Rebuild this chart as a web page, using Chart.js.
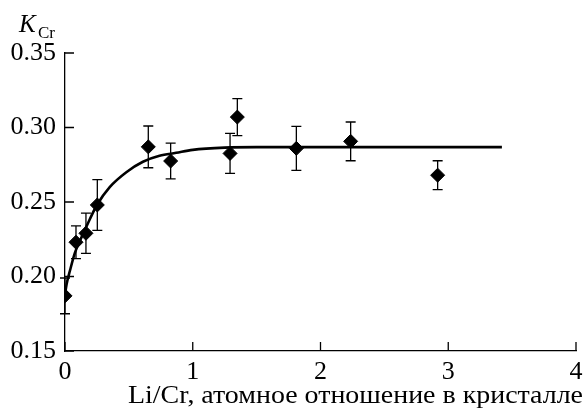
<!DOCTYPE html>
<html>
<head>
<meta charset="utf-8">
<script src="https://cdn.jsdelivr.net/npm/chart.js@4.4.1/dist/chart.umd.min.js"></script>
<style>
  html, body { margin: 0; padding: 0; background: #fff; }
  canvas { display: block; }
</style>
</head>
<body>
<canvas id="grafico" width="584" height="409"></canvas>
<script>
// Datos
var liCr = [0, 0.086, 0.164, 0.253, 0.652, 0.827, 1.292, 1.349, 1.811, 2.236, 2.917];
var kCr = [0.187, 0.223, 0.229, 0.248, 0.287, 0.2775, 0.2826, 0.307, 0.286, 0.2907, 0.268];
var errores = [0.012, 0.011, 0.0135, 0.017, 0.014, 0.012, 0.0134, 0.0124, 0.0148, 0.013, 0.0097];

// Curva ajustada (puntos leidos)
var curvaX = [0, 0.013, 0.039, 0.078, 0.117, 0.17, 0.25, 0.35, 0.48, 0.61, 0.74, 0.87, 1.0, 1.25, 1.5, 2.0, 2.5, 3.0, 3.42];
var curvaY = [0.188, 0.195, 0.204, 0.216, 0.224, 0.234, 0.248, 0.260, 0.270, 0.277, 0.281, 0.283, 0.285, 0.2865, 0.2868, 0.2868, 0.2868, 0.2868, 0.2868];

var ticksX = [0, 1, 2, 3, 4];
var ticksY = [0.15, 0.20, 0.25, 0.30, 0.35];

var fuente = '"Liberation Serif", "Times New Roman", serif';

// Barras de error
var barrasError = {
    id: 'barrasError',
    beforeDatasetsDraw: function(chart) {
        var ctx = chart.ctx;
        var sx = chart.scales.x, sy = chart.scales.y;
        ctx.save();
        ctx.strokeStyle = '#000';
        ctx.lineWidth = 1.3;
        for (var i = 0; i < liCr.length; i++) {
            var px = sx.getPixelForValue(liCr[i]);
            var top = sy.getPixelForValue(kCr[i] + errores[i]);
            var bot = sy.getPixelForValue(kCr[i] - errores[i]);
            ctx.beginPath();
            ctx.moveTo(px, top); ctx.lineTo(px, bot);
            ctx.moveTo(px - 5, top); ctx.lineTo(px + 5, top);
            ctx.moveTo(px - 5, bot); ctx.lineTo(px + 5, bot);
            ctx.stroke();
        }
        ctx.restore();
    }
};

// Marcas hacia dentro y textos de ejes
var ejes = {
    id: 'ejes',
    afterDraw: function(chart) {
        var ctx = chart.ctx;
        var sx = chart.scales.x, sy = chart.scales.y;
        var a = chart.chartArea;
        ctx.save();
        ctx.strokeStyle = '#000';
        ctx.lineWidth = 1.3;
        ctx.beginPath();
        ticksY.forEach(function(v) {
            var py = sy.getPixelForValue(v);
            ctx.moveTo(a.left, py); ctx.lineTo(a.left + 9, py);
        });
        ticksX.forEach(function(v) {
            var px = sx.getPixelForValue(v);
            ctx.moveTo(px, a.bottom); ctx.lineTo(px, a.bottom - 9);
        });
        ctx.stroke();

        ctx.fillStyle = '#000';
        ctx.textBaseline = 'alphabetic';
        ctx.textAlign = 'left';
        ctx.font = 'italic 25px ' + fuente;
        ctx.fillText('K', 19, 32);
        ctx.font = '17px ' + fuente;
        ctx.fillText('Cr', 38, 38);

        // titulo del eje x, ajustado al ancho del original
        var titulo = 'Li/Cr, атомное отношение в кристалле';
        ctx.font = '25px ' + fuente;
        var ancho = ctx.measureText(titulo).width;
        var escala = 455 / ancho;
        ctx.translate(128, 403);
        ctx.scale(escala, 1);
        ctx.fillText(titulo, 0, 0);
        ctx.restore();
    }
};

var ctx = document.getElementById('grafico').getContext('2d');
var grafico = new Chart(ctx, {
    type: 'scatter',
    data: {
        datasets: [{
            data: liCr.map(function(x, i) { return {x: x, y: kCr[i]}; }),
            pointStyle: 'rectRot',
            pointRadius: 7,
            backgroundColor: '#000',
            borderColor: '#000',
            borderWidth: 1
        }, {
            data: curvaX.map(function(x, i) { return {x: x, y: curvaY[i]}; }),
            showLine: true,
            pointRadius: 0,
            borderColor: '#000',
            borderWidth: 2.6,
            cubicInterpolationMode: 'monotone',
            fill: false
        }]
    },
    options: {
        responsive: false,
        animation: false,
        layout: { padding: { top: 53, right: 8, left: 0, bottom: 0 } },
        plugins: { legend: { display: false }, tooltip: { enabled: false } },
        scales: {
            x: {
                type: 'linear',
                min: 0, max: 4,
                afterFit: function(s) { s.height = 58; s.paddingRight = 0; s.paddingLeft = 0; },
                afterBuildTicks: function(s) { s.ticks = ticksX.map(function(v) { return {value: v}; }); },
                grid: { display: true, drawOnChartArea: false, drawTicks: false },
                border: { display: true, color: '#000', width: 1.3 },
                ticks: {
                    color: '#000', padding: 6,
                    font: { family: fuente, size: 26 },
                    callback: function(v) { return String(v); }
                }
            },
            y: {
                type: 'linear',
                min: 0.15, max: 0.35,
                afterFit: function(s) { s.width = 65; s.paddingTop = 0; s.paddingBottom = 0; },
                afterBuildTicks: function(s) { s.ticks = ticksY.map(function(v) { return {value: v}; }); },
                grid: { display: true, drawOnChartArea: false, drawTicks: false },
                border: { display: true, color: '#000', width: 1.3 },
                ticks: {
                    color: '#000', padding: 9,
                    font: { family: fuente, size: 26 },
                    callback: function(v) { return v.toFixed(2); }
                }
            }
        }
    },
    plugins: [barrasError, ejes]
});
</script>
</body>
</html>
